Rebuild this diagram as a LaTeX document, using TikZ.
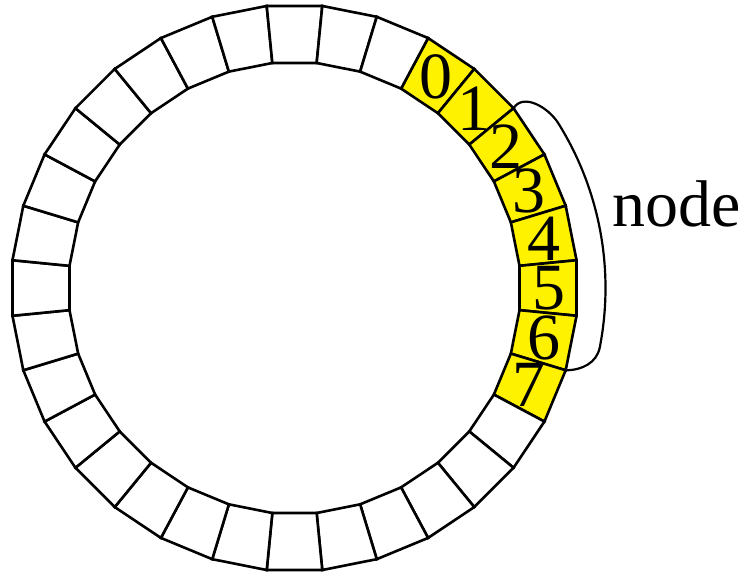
\documentclass[tikz,border=0pt]{standalone}
\usepackage{fontspec}
\setmainfont{Liberation Serif}
\begin{document}
\begin{tikzpicture}[x=1pt,y=1pt,
  seg/.style={draw=black,line width=2.6pt,fill=white},
  yseg/.style={draw=black,line width=2.6pt,fill=yellow},
  lbl/.style={font=\fontsize{66}{66}\selectfont,inner sep=0pt},
  brace/.style={draw=black,line width=2.2pt}]
\useasboundingbox (0,0) rectangle (745,572);
\def\Ro{283.4}
\def\Ri{226.1}
\begin{scope}[shift={(294.5,284)}]
  \foreach \j in {0,...,31}{
    \pgfmathsetmacro{\a}{56.25-11.25*\j}
    \ifnum\j<8 \def\st{yseg}\else\def\st{seg}\fi
    \path[\st] (\a-5.625:\Ro) -- (\a+5.625:\Ro) -- (\a+5.625:\Ri) -- (\a-5.625:\Ri) -- cycle;
  }
  \coordinate (A) at (39.375:\Ro);
  \coordinate (B) at (-16.875:\Ro);
  \draw[brace] (A) to[out=58,in=122] (32:311) arc[start angle=32,end angle=-11,radius=311pt] to[out=-101,in=0] (B);
  \foreach \d in {0,...,7}{
    \node[lbl] (n\d) at ({56.25-11.25*\d}:254) {\d};
  }
\end{scope}
\node[lbl,anchor=base west] (nodelbl) at (612,345.3) {node};
\end{tikzpicture}
\end{document}
